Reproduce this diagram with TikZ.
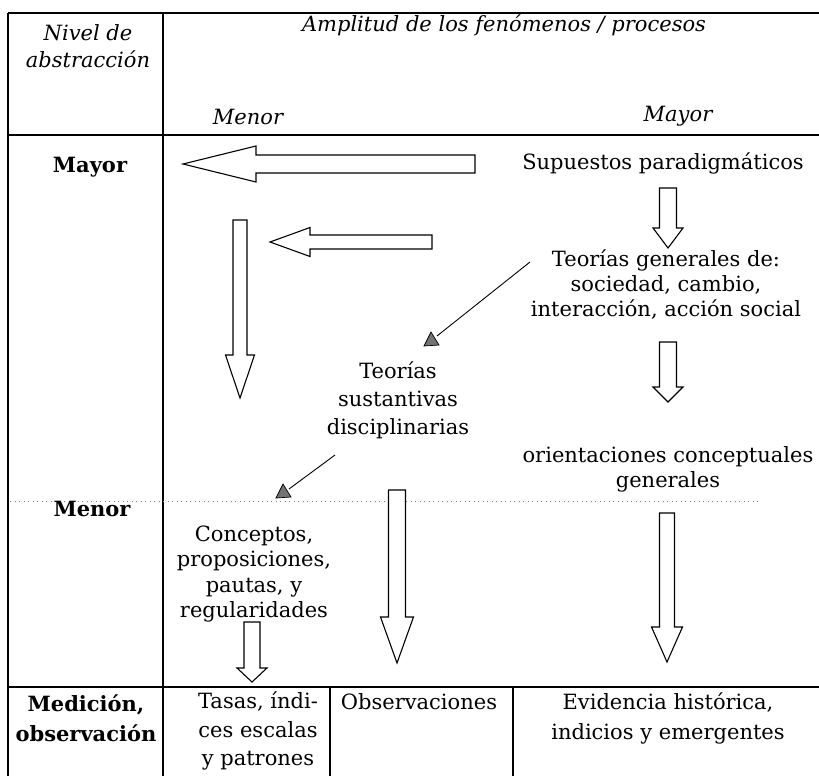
\documentclass[tikz,border=0pt]{standalone}
\usepackage{fontspec}
\setmainfont{DejaVu Serif}
\newcommand\mydarrow[6]{% x, top, base, tip, shaft half, head half
  \draw[blk] ({#1-#5},#2) -- ({#1+#5},#2) -- ({#1+#5},#3) -- ({#1+#6},#3) -- (#1,#4) -- ({#1-#6},#3) -- ({#1-#5},#3) -- cycle;}
\newcommand\mylarrow[6]{% y, tail, base, tip, shaft half, head half
  \draw[blk] (#2,{#1-#5}) -- (#2,{#1+#5}) -- (#3,{#1+#5}) -- (#3,{#1+#6}) -- (#4,#1) -- (#3,{#1-#6}) -- (#3,{#1-#5}) -- cycle;}
\newcommand\mytritip[1]{\filldraw[fill=black!55, draw=black, line width=0.7pt] (#1) ++(0,-8) -- ++(-7,14) -- ++(15,-1) -- cycle;}
\begin{document}
\begin{tikzpicture}[x=1pt,y=-1pt,
  tline/.style={line width=1.3pt},
  blk/.style={draw, line width=1.1pt, fill=white, line join=miter},
  thin/.style={line width=0.9pt},
  txt/.style={inner sep=0pt, align=center, font=\fontsize{21}{26}\selectfont},
  itx/.style={txt, font=\fontsize{21}{27}\selectfont\itshape},
  btx/.style={txt, font=\fontsize{21}{30}\selectfont\bfseries}]
\useasboundingbox (0,0) rectangle (819,776);
\fill[white] (0,0) rectangle (819,776);

% table lines
\draw[tline] (8,13) -- (819,13);
\draw[tline] (8,135) -- (819,135);
\draw[tline] (8,687) -- (819,687);
\draw[tline] (8,13) -- (8,776);
\draw[tline] (163,13) -- (163,776);
\draw[tline] (330,687) -- (330,776);
\draw[tline] (513,687) -- (513,776);
\draw[gray, line width=0.7pt, dash pattern=on 1pt off 3.5pt] (10,501) -- (758,501);

% header texts
\node[itx] (nivel) at (88,46) {Nivel de\\abstracción};
\node[itx] (amplitud) at (504,25) {Amplitud de los fenómenos / procesos};
\node[itx] (menorh) at (248,117) {Menor};
\node[itx] (mayorh) at (678,116) {Mayor};

% row labels
\node[btx] (mayorr) at (90,167) {Mayor};
\node[btx] (menorr) at (92,509) {Menor};
\node[btx] (medicion) at (86,718) {Medición,\\observación};

% body texts
\node[txt] (supuestos) at (663,163) {Supuestos paradigmáticos};
\node[txt, font=\fontsize{21}{25}\selectfont] (generales) at (666,285) {Teorías generales de:\\sociedad, cambio,\\interacción, acción social};
\node[txt, font=\fontsize{21}{28}\selectfont] (sustantivas) at (398,400) {Teorías\\sustantivas\\disciplinarias};
\node[txt, font=\fontsize{21}{25}\selectfont] (orientaciones) at (668,469) {orientaciones conceptuales\\generales};
\node[txt, font=\fontsize{21}{25.5}\selectfont] (conceptos) at (254,574) {Conceptos,\\proposiciones,\\pautas, y\\regularidades};
\node[txt, font=\fontsize{21}{28.5}\selectfont] (tasas) at (258,731) {Tasas, índi-\\ces escalas\\y patrones};
\node[txt] (observ) at (419,702) {Observaciones};
\node[txt, font=\fontsize{21}{30}\selectfont] (evidencia) at (668,718) {Evidencia histórica,\\indicios y emergentes};

% block arrows
\mylarrow{164}{475}{256}{183}{9}{18}
\mylarrow{242}{432}{310}{270}{7}{14.5}
\mydarrow{240}{220}{355}{398}{7}{14.5}
\mydarrow{668}{188}{228}{248}{8.5}{15}
\mydarrow{668}{342}{387}{402}{8.5}{15}
\mydarrow{397}{490}{617}{663}{8.5}{16.5}
\mydarrow{667}{513}{627}{662}{7.5}{15.5}
\mydarrow{252}{622}{668}{682}{8}{15}

% thin arrows with triangle tips
\coordinate (a1s) at (530,262);
\coordinate (a1e) at (437,336);
\coordinate (a1t) at (431,340);
\coordinate (a2s) at (335,455);
\coordinate (a2e) at (289,489);
\coordinate (a2t) at (283,492);
\draw[thin] (a1s) -- (a1e);
\mytritip{a1t}
\draw[thin] (a2s) -- (a2e);
\mytritip{a2t}
\end{tikzpicture}
\end{document}
